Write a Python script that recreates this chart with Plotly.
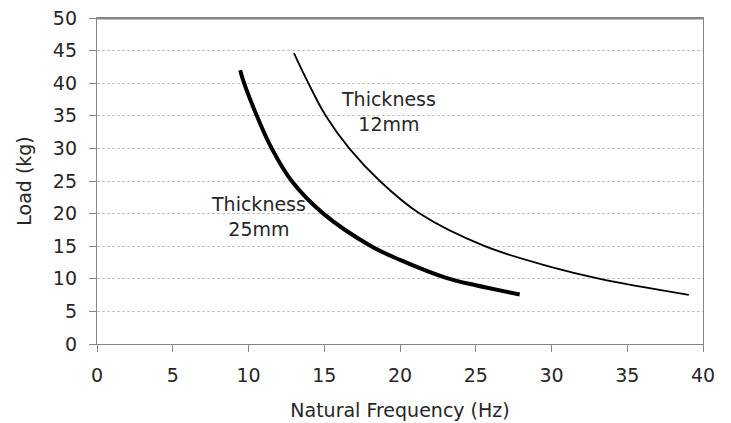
import plotly.graph_objects as go

# Series: Thickness 25mm
freq_25mm = [9.45, 9.71, 10.55, 11.53, 12.85, 14.94, 18.1, 20.0, 23.1, 25.0, 27.9]
load_25mm = [42.0, 40.0, 35.0, 30.0, 25.0, 20.0, 15.0, 12.9, 10.1, 9.0, 7.6]

# Series: Thickness 12mm
freq_12mm = [13.0, 13.95, 15.1, 16.65, 18.67, 21.3, 25.6, 30.0, 33.2, 39.06]
load_12mm = [44.6, 40.0, 35.0, 30.0, 25.0, 20.0, 15.0, 11.8, 10.0, 7.55]

x_ticks = [0, 5, 10, 15, 20, 25, 30, 35, 40]
y_ticks = [0, 5, 10, 15, 20, 25, 30, 35, 40, 45, 50]

FONT = "'DejaVu Sans', sans-serif"
TXT = "#262626"
AXC = "#868686"

fig = go.Figure()
fig.add_trace(go.Scatter(x=freq_25mm, y=load_25mm, mode="lines",
                         line=dict(color="black", width=4, shape="spline"),
                         name="Thickness 25mm", showlegend=False))
fig.add_trace(go.Scatter(x=freq_12mm, y=load_12mm, mode="lines",
                         line=dict(color="black", width=1.8, shape="spline"),
                         name="Thickness 12mm", showlegend=False))

fig.add_annotation(x=19.27, y=35.7, text="Thickness<br>12mm", showarrow=False,
                   font=dict(size=19, color=TXT), align="center")
fig.add_annotation(x=10.63, y=19.5, text="Thickness<br>25mm", showarrow=False,
                   font=dict(size=19, color=TXT), align="center")

# top border of the plot frame
fig.add_shape(type="line", xref="paper", yref="paper", x0=0, x1=1, y0=0.998, y1=0.998,
              line=dict(color=AXC, width=1.5), layer="above")

axis_common = dict(showline=True, linecolor=AXC, linewidth=1.3, mirror=True,
                   ticks="outside", ticklen=7, tickcolor=AXC, tickwidth=1.3,
                   zeroline=False, automargin=False, ticklabeloverflow="allow",
                   tickfont=dict(size=19, color=TXT))

fig.update_xaxes(range=[0, 40], tickvals=x_ticks, showgrid=False,
                 ticklabelstandoff=7,
                 title=dict(text="Natural Frequency (Hz)", font=dict(size=19, color=TXT), standoff=18),
                 **axis_common)
fig.update_yaxes(range=[0, 50], tickvals=y_ticks, showgrid=True,
                 gridcolor="#c6c6c6", griddash="3px,2px", gridwidth=1,
                 ticklabelstandoff=8,
                 title=dict(text="Load (kg)", font=dict(size=19, color=TXT), standoff=16),
                 **axis_common)

# page body has an 8px margin, so the figure is sized/margined to compensate
fig.update_layout(width=723, height=415, plot_bgcolor="white", paper_bgcolor="white",
                  margin=dict(l=89, r=28, t=10, b=79),
                  font=dict(family=FONT, size=19, color=TXT))

fig.write_html("out.html")
